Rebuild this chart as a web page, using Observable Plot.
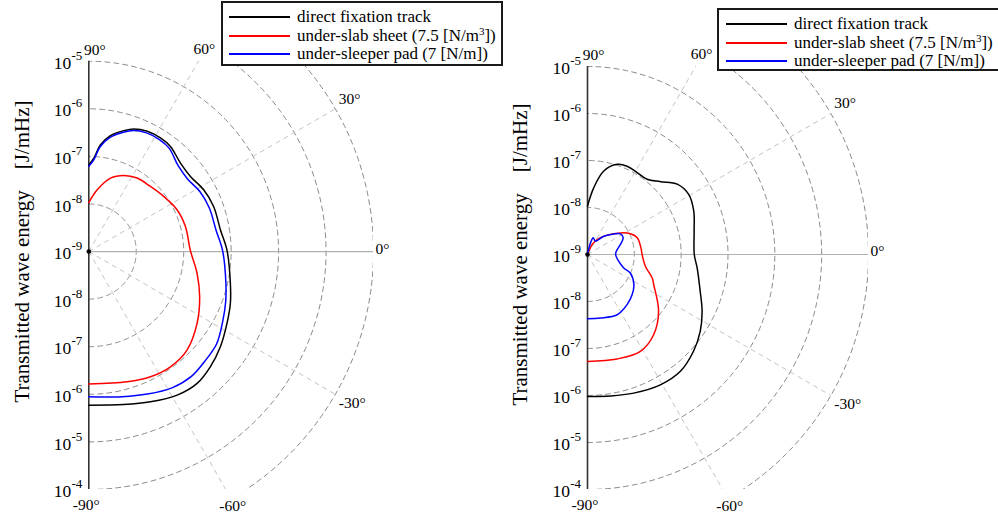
<!DOCTYPE html>
<html><head><meta charset="utf-8">
<script src="https://cdn.jsdelivr.net/npm/d3@7"></script>
<script src="https://cdn.jsdelivr.net/npm/@observablehq/plot@0.6"></script>
<style>
body{margin:0;background:#fff;}
#wrap{position:relative;width:998px;height:522px;overflow:hidden;font-family:"Liberation Serif",serif;background:#fff;}
.panel{position:absolute;top:0;}
.legend{position:absolute;background:#fff;border:2px solid #1a1a1a;box-sizing:border-box;font-size:17px;color:#000;font-family:"Liberation Serif",serif;}
.row{position:absolute;left:0;height:20px;display:flex;align-items:center;white-space:nowrap;}
.swatch{display:inline-block;width:61px;height:2px;margin-right:7px;}
sup{font-size:11px;line-height:0;vertical-align:0.55em;}
</style></head><body><div id="wrap"></div>
<script>
// ---------- shared axis definitions ----------
const baseExponent = -9;                 // centre of the polar plot = 10^-9
const ringDecades = [1, 2, 3, 4, 5, 6];  // dashed rings (decades above 10^-9)
const spokeAngles = [60, 30, -30, -60];
const angleTicks = [90, 60, 30, 0, -30, -60, -90];
const upperTickExponents = [-9, -8, -7, -6, -5];
const lowerTickExponents = [-8, -7, -6, -5, -4];
const seriesNames = ["direct fixation track", "under-slab sheet (7.5 [N/m3])", "under-sleeper pad (7 [N/m])"];
const yTitle = "Transmitted wave energy\u00a0\u00a0\u00a0\u00a0[J/mHz]";

// ---------- left panel data (angle in degrees, log10 energy) ----------
const leftBlackAngle = [90, 86.9, 83.7, 79.4, 73.8, 69.8, 64, 57.7, 52.1, 43.9, 36.4, 28.2, 19.8, 9.4, 0.4, -12.6, -20, -27.4, -35.8, -43.4, -50.5, -58.3, -67.6, -77.1, -90];
const leftBlackLogE  = [-7.175, -7.032, -6.741, -6.522, -6.354, -6.255, -6.189, -6.175, -6.200, -6.318, -6.339, -6.253, -6.204, -6.189, -6.086, -5.943, -5.825, -5.720, -5.581, -5.476, -5.411, -5.455, -5.585, -5.703, -5.773];
const leftBlueAngle  = [90, 86.9, 83.7, 79.4, 73.8, 69.8, 64, 57.7, 52.1, 43.9, 36.4, 28.2, 19.8, 9.4, 0.4, -12.6, -20, -27.4, -35.8, -43.4, -50.5, -58.3, -67.6, -77.1, -90];
const leftBlueLogE   = [-7.21, -7.07, -6.78, -6.56, -6.39, -6.29, -6.225, -6.215, -6.245, -6.39, -6.42, -6.34, -6.30, -6.28, -6.18, -6.04, -5.93, -5.82, -5.68, -5.64, -5.60, -5.64, -5.76, -5.87, -5.947];
const leftRedAngle   = [90, 82.2, 73.5, 65.3, 56.6, 46.5, 36.3, 25.3, 14.5, 0.6, -11.3, -22.1, -33.4, -45, -54.6, -63.7, -73.5, -90];
const leftRedLogE    = [-7.97, -7.69, -7.39, -7.24, -7.15, -7.114, -7.042, -6.943, -6.897, -6.859, -6.674, -6.478, -6.265, -6.072, -6.029, -6.065, -6.145, -6.215];

// ---------- right panel data ----------
const rightBlackAngle = [90, 84.6, 78.9, 71.7, 65.8, 58.7, 51.5, 44.8, 38, 30.6, 22.2, 12.3, 0, -7, -18, -26.3, -34.2, -42.3, -51.4, -60.7, -71.5, -80.7, -90];
const rightBlackLogE  = [-7.97, -7.57, -7.19, -6.98, -6.94, -6.96, -6.955, -6.80, -6.57, -6.49, -6.55, -6.67, -6.72, -6.64, -6.47, -6.27, -6.09, -5.94, -5.82, -5.82, -5.89, -5.95, -5.98];
const rightRedAngle   = [90, 64.8, 57.1, 44.4, 33.2, 25.6, 18.5, 7, 0, -11.4, -19.9, -24.3, -38.5, -50.4, -61.3, -74.1, -90];
const rightRedLogE    = [-9, -8.765, -8.62, -8.41, -8.16, -7.98, -7.88, -7.85, -7.834, -7.74, -7.53, -7.45, -7.06, -6.785, -6.65, -6.69, -6.725];
const rightBlueAngle  = [90, 75.5, 71, 59, 48.3, 38.1, 32, 24.9, 16.9, 6.5, 0, -12.1, -20.3, -23.5, -32.9, -41.8, -51.6, -63.7, -78.4, -90];
const rightBlueLogE   = [-9, -8.744, -8.625, -8.67, -8.48, -8.29, -8.17, -8.16, -8.265, -8.38, -8.40, -8.32, -8.175, -8.0, -7.82, -7.72, -7.64, -7.57, -7.62, -7.635];

// ---------- helpers ----------
const rad = a => a * Math.PI / 180;
const px = d => d.r * Math.cos(rad(d.a));
const py = d => d.r * Math.sin(rad(d.a));
const build = (name, angles, logE) => angles.map((a, i) => ({name, a, r: logE[i] - baseExponent}));
const Y_TOP = 4, Y_BOTTOM = -5, R_MAX = 6;

const labelOffset = {
  "90": [6, -11, "middle"], "60": [6, -12.5, "middle"], "30": [3.5, -10, "start"],
  "0": [2, -3, "start"], "-30": [3.5, 8.5, "start"], "-60": [7, 17, "middle"], "-90": [-2.5, 15.5, "middle"]
};
function spokeEnd(a) {
  const c = Math.cos(rad(a)), s = Math.sin(rad(a));
  let t = R_MAX;
  if (s > 1e-9) t = Math.min(t, Y_TOP / s);
  if (s < -1e-9) t = Math.min(t, Y_BOTTOM / s);
  return {a, x: t * c, y: t * s};
}

function panel({left, marginLeft, marginRight, marginTop, marginBottom, data}) {
  const ringPts = ringDecades.flatMap(r => d3.range(-90, 90.5, 1).map(a => ({r, a})));
  const labelMarks = angleTicks.map(a => {
    const [dx, dy, anchor] = labelOffset[String(a)];
    return Plot.text([spokeEnd(a)], {x: "x", y: "y", text: d => `${d.a}°`, dx, dy, textAnchor: anchor,
      fontSize: 15.5, fill: "black"});
  });
  const tickData = [
    ...upperTickExponents.map(e => ({e, y: e - baseExponent})),
    ...lowerTickExponents.map(e => ({e, y: -(e - baseExponent)}))
  ];
  const svg = Plot.plot({
    width: 499, height: 522,
    marginLeft, marginRight, marginTop, marginBottom,
    x: {domain: [0, R_MAX], axis: null},
    y: {domain: [Y_BOTTOM, Y_TOP], axis: null},
    color: {domain: seriesNames, range: ["black", "red", "blue"]},
    style: {fontFamily: "Liberation Serif, serif", background: "transparent", overflow: "visible"},
    marks: [
      Plot.line(ringPts, {x: px, y: py, z: "r", stroke: "#8a8a8a", strokeWidth: 1, strokeDasharray: "5,4", clip: true}),
      Plot.link(spokeAngles, {x1: () => 0, y1: () => 0, x2: a => R_MAX * Math.cos(rad(a)), y2: a => R_MAX * Math.sin(rad(a)),
        stroke: "#c4c4c4", strokeWidth: 1, strokeDasharray: "5,4", clip: true}),
      Plot.ruleY([0], {x1: 0, x2: R_MAX, stroke: "#b0b0b0", strokeWidth: 1.2}),
      Plot.ruleX([0], {stroke: "#333", strokeWidth: 1.6}),
      Plot.line(data, {x: px, y: py, z: "name", stroke: "name", strokeWidth: 1.5, curve: "catmull-rom"}),
      Plot.dot([0], {x: () => 0, y: () => 0, r: 2.3, fill: "black", stroke: "none"}),
      ...labelMarks,
      Plot.text(tickData, {x: () => 0, y: "y", text: () => "10", textAnchor: "end", dx: -17.5, dy: 2, fontSize: 17.5, fill: "black"}),
      Plot.text(tickData, {x: () => 0, y: "y", text: d => String(d.e), textAnchor: "start", dx: -17.3, dy: -5.5, fontSize: 13, fill: "black"}),
      Plot.text([yTitle], {x: () => 0, y: () => 0, text: d => d, dx: -67, rotate: -90, fontSize: 21, fill: "black"})
    ]
  });
  const holder = document.createElement("div");
  holder.className = "panel";
  holder.style.left = left + "px";
  holder.appendChild(svg);
  document.getElementById("wrap").appendChild(holder);
}

panel({left: 0, marginLeft: 88.3, marginRight: 499 - 373, marginTop: 60.7, marginBottom: 522 - 489,
  data: [...build(seriesNames[0], leftBlackAngle, leftBlackLogE),
         ...build(seriesNames[1], leftRedAngle, leftRedLogE),
         ...build(seriesNames[2], leftBlueAngle, leftBlueLogE)]});
panel({left: 499, marginLeft: 88, marginRight: 998 - 868, marginTop: 66, marginBottom: 522 - 489,
  data: [...build(seriesNames[0], rightBlackAngle, rightBlackLogE),
         ...build(seriesNames[1], rightRedAngle, rightRedLogE),
         ...build(seriesNames[2], rightBlueAngle, rightBlueLogE)]});

// ---------- legends ----------
const legendColors = ["black", "red", "blue"];
function legend(left, top, width, height, rowTops, lineLeft) {
  const box = document.createElement("div");
  box.className = "legend";
  Object.assign(box.style, {left: left + "px", top: top + "px", width: width + "px", height: height + "px"});
  seriesNames.forEach((name, i) => {
    const row = document.createElement("div");
    row.className = "row";
    row.style.top = rowTops[i] + "px";
    row.style.left = lineLeft + "px";
    const sw = document.createElement("span");
    sw.className = "swatch";
    sw.style.background = legendColors[i];
    const label = document.createElement("span");
    if (name.includes("m3")) {
      const [a, b] = name.split("m3");
      label.append(a + "m");
      const sup = document.createElement("sup"); sup.textContent = "3";
      label.append(sup, b);
    } else label.textContent = name;
    row.append(sw, label);
    box.appendChild(row);
  });
  document.getElementById("wrap").appendChild(box);
}
legend(221, 1, 282, 65, [4, 23, 41], 6);
legend(717, 8, 284, 63, [4, 23, 41], 7);
</script></body></html>
